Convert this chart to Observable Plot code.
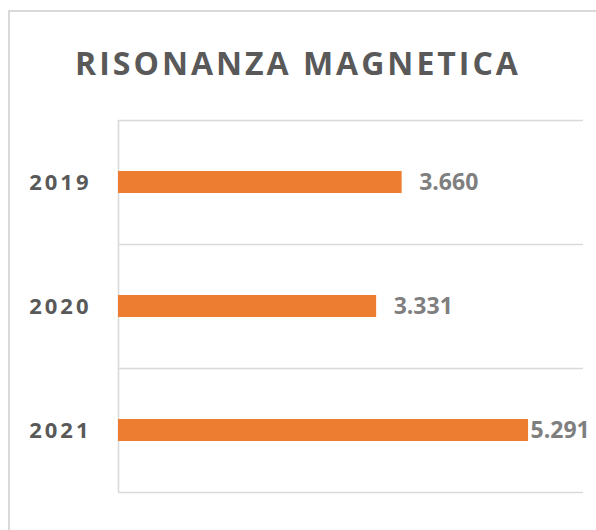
<!DOCTYPE html>
<html><head><meta charset="utf-8">
<script src="https://cdn.jsdelivr.net/npm/d3@7"></script>
<script src="https://cdn.jsdelivr.net/npm/@observablehq/plot@0.6"></script>
<style>
html,body{margin:0;padding:0;background:#fff;overflow:hidden;width:596px;height:530px;}
#frame{position:absolute;left:8px;top:10px;width:700px;height:700px;border:2px solid #d9d9d9;box-sizing:border-box;}
#title{position:absolute;left:0;top:47px;width:596px;text-align:center;font-family:"Open Sans";font-weight:700;font-size:32px;letter-spacing:3px;color:#595959;line-height:1;white-space:nowrap}
#chart{position:absolute;left:0;top:100px;}
#chart svg{overflow:visible}
#chart [aria-label="y-axis tick label"] text{letter-spacing:3px}
</style></head><body>
<div id="frame"></div>
<div id="title">RISONANZA MAGNETICA</div>
<div id="chart"></div>
<script>
const years = ["2019", "2020", "2021"];
const values = [3660, 3331, 5291];
const xMax = 6000;

const data = years.map((y, i) => ({year: y, value: values[i]}));
const it = d3.formatLocale({decimal: ",", thousands: ".", grouping: [3], currency: ["€", ""]});
const fmt = it.format(",d");

const W = 596, mL = 118, mR = 13;
const plotW = W - mL - mR;
const fits = d => (d.value / xMax) * plotW + 17 + 62 <= plotW;
const gridColor = "#d9d9d9";
const labelStyle = {y: "year", x: "value", text: d => fmt(d.value), textAnchor: "start", fontSize: 23, fontWeight: 700, fill: "#7f7f7f", fontFamily: "Open Sans"};

const chart = Plot.plot({
  width: W,
  height: 422,
  marginLeft: mL,
  marginRight: mR,
  marginTop: 20,
  marginBottom: 30,
  style: {fontFamily: "Open Sans", background: "transparent"},
  x: {domain: [0, xMax], axis: null},
  y: {domain: years, type: "band", padding: 0, axis: null},
  marks: [
    Plot.ruleY(years, {y: d => d, dy: -62, stroke: gridColor, strokeWidth: 1.6}),
    Plot.ruleY(years.slice(-1), {y: d => d, dy: 62, stroke: gridColor, strokeWidth: 1.6}),
    Plot.ruleX([0], {stroke: gridColor, strokeWidth: 1.6}),
    Plot.barX(data, {y: "year", x: "value", fill: "#ed7d31", insetTop: 51, insetBottom: 51}),
    Plot.axisY({label: null, tickSize: 0, tickPadding: 27, fontSize: 22, fontWeight: 700, fill: "#595959", fontFamily: "Open Sans"}),
    Plot.text(data.filter(fits), {...labelStyle, dx: 17}),
    Plot.text(data.filter(d => !fits(d)), {...labelStyle, dx: 2})
  ]
});
document.getElementById("chart").appendChild(chart);
</script>
</body></html>
